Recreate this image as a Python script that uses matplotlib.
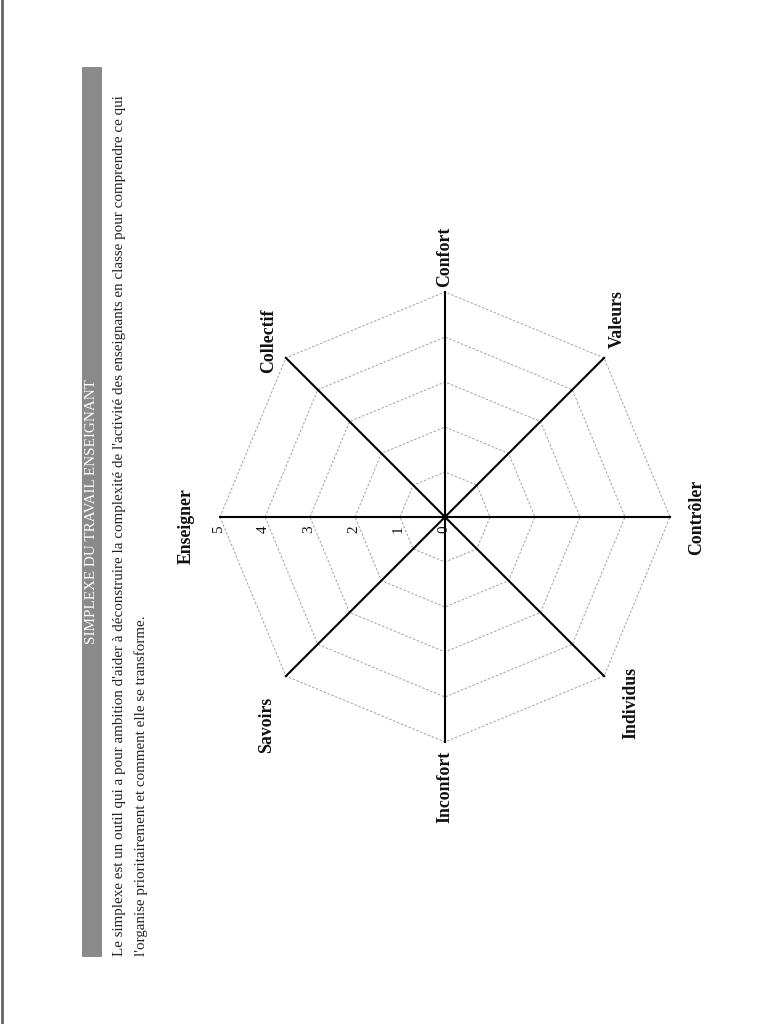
import numpy as np
import matplotlib
matplotlib.use('Agg')
import matplotlib.pyplot as plt

# ── Data ────────────────────────────────────────────────────────────
categories = ['Enseigner', 'Collectif', 'Confort', 'Valeurs',
              'Contrôler', 'Individus', 'Inconfort', 'Savoirs']
levels = [1, 2, 3, 4, 5]
tick_labels = ['0', '1', '2', '3', '4', '5']
title = 'SIMPLEXE DU TRAVAIL ENSEIGNANT'
intro = ["Le simplexe est un outil qui a pour ambition d'aider à déconstruire la complexité "
         "de l'activité des enseignants en classe pour comprendre ce qui",
         "l'organise prioritairement et comment elle se transforme."]

# page is scanned sideways: chart rotated 90 deg counter-clockwise
W, H = 768, 1024
fig = plt.figure(figsize=(W / 100, H / 100), dpi=100, facecolor='white')

def fx(px):
    return px / W

def fy(py):
    return 1 - py / H

SERIF = ['Liberation Serif', 'DejaVu Serif']

# ── Header (title bar + intro text) ─────────────────────────────────
bar = fig.add_axes([fx(82), fy(957), fx(102) - fx(82), fy(67) - fy(957)])
bar.set_facecolor('#8a8a8a')
bar.set_xticks([]); bar.set_yticks([])
for s in bar.spines.values():
    s.set_visible(False)
fig.text(fx(92), fy(512), title, rotation=90, ha='center', va='center',
         color='white', fontsize=10.9, family=SERIF)
for i, line in enumerate(intro):
    fig.text(fx(120 + i * 21), fy(956), line, rotation=90, ha='center', va='bottom',
             color='#222222', fontsize=10.8, family=SERIF)

# scanner edge on the left
fig.add_artist(plt.Line2D([0.002, 0.002], [0, 1], color='#666666', lw=2,
                          transform=fig.transFigure))

# ── Radar ───────────────────────────────────────────────────────────
cx, cy, unit = 445, 517, 45.0
span = 6.5
ax = fig.add_axes([fx(cx - span * unit), fy(cy + span * unit),
                   2 * span * unit / W, 2 * span * unit / H])
ax.set_xlim(-span, span)
ax.set_ylim(-span, span)
ax.set_aspect('equal')
ax.axis('off')

n = len(categories)
# Enseigner on the left, going clockwise
angles = np.pi - np.arange(n) * 2 * np.pi / n
closed = np.append(angles, angles[0])

for r in levels:
    ax.plot(r * np.cos(closed), r * np.sin(closed), color='#a0a0a0',
            lw=0.7, ls=(0, (2.5, 1.8)), zorder=1)

for a in angles:
    ax.plot([0, levels[-1] * np.cos(a)], [0, levels[-1] * np.sin(a)],
            color='black', lw=1.5, zorder=2)

# scale labels along the Enseigner axis
for v, t in zip([0] + levels, tick_labels):
    ax.text(-v - 0.03, -0.27, t, rotation=90, ha='center', va='center',
            fontsize=11, family=SERIF, color='#111111')

# label placement: distance from centre plus a small nudge (data units)
label_r = [5.75, 5.55, 5.78, 5.5, 5.6, 5.85, 6.0, 6.1]
label_nudge = [(0.0, -0.2), (0.0, 0.0), (0.0, 0.0), (-0.05, 0.5),
               (0.0, 0.0), (0.0, 0.0), (0.0, 0.0), (0.35, -0.3)]
for name, a, lr, (nx, ny) in zip(categories, angles, label_r, label_nudge):
    ax.text(lr * np.cos(a) + nx, lr * np.sin(a) + ny, name, rotation=90,
            ha='center', va='center', fontsize=12.8, fontweight='bold',
            family=SERIF, color='#111111')

fig.savefig('out.png', dpi=100, facecolor='white')
